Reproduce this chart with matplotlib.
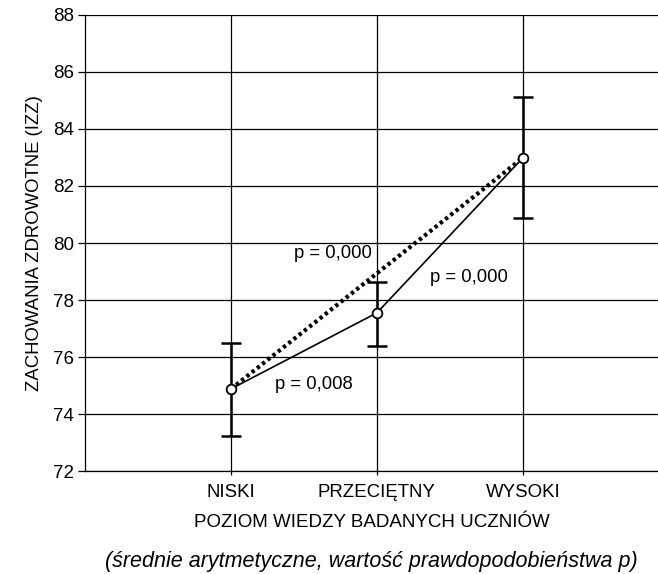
import numpy as np
import matplotlib.pyplot as plt

plt.rcParams['font.family'] = ['Liberation Sans', 'DejaVu Sans']

categories = ['NISKI', 'PRZECIĘTNY', 'WYSOKI']
means = [74.88, 77.55, 82.99]
err_low = [73.23, 76.39, 80.87]
err_high = [76.49, 78.64, 85.13]
p_labels = ['p = 0,000', 'p = 0,000', 'p = 0,008']
p_pos = [(1.70, 79.62), (2.63, 78.80), (1.57, 75.05)]

x = np.arange(1, len(categories) + 1)
means = np.array(means)
yerr = [means - np.array(err_low), np.array(err_high) - means]

fig = plt.figure(figsize=(6.58, 5.74), dpi=100)
ax = fig.add_axes([0.129, 0.1794, 0.871, 0.7945])

ax.set_xlim(0, 3.925)
ax.set_ylim(72, 88)
ax.set_yticks(np.arange(72, 89, 2))
ax.set_xticks(x)
ax.set_xticklabels(categories)
ax.grid(True, color='black', linewidth=0.9)
ax.set_axisbelow(True)
for s in ['top', 'right']:
    ax.spines[s].set_visible(False)
ax.spines['left'].set_linewidth(0.9)
ax.spines['bottom'].set_linewidth(0.9)
ax.tick_params(axis='y', direction='out', length=5, width=0.9, labelsize=13.5, pad=3)
ax.tick_params(axis='x', direction='out', length=3, width=0.9, labelsize=13.4, pad=6)

# dotted line between extremes
ax.plot([x[0], x[-1]], [means[0], means[-1]], color='black', linestyle=(0, (0.8, 0.8)),
        linewidth=3, zorder=3)
ax.errorbar(x, means, yerr=yerr, fmt='none', ecolor='black', elinewidth=1.8,
            capsize=7, capthick=1.8, zorder=4)
ax.plot(x, means, color='black', linewidth=1.2, marker='o', markersize=7,
        markerfacecolor='white', markeredgecolor='black', markeredgewidth=1.3, zorder=5)

for lab, (px, py) in zip(p_labels, p_pos):
    ax.text(px, py, lab, ha='center', va='center', fontsize=13.3)

ax.set_ylabel('ZACHOWANIA ZDROWOTNE (IZZ)', fontsize=13.3, labelpad=7)
ax.set_xlabel('POZIOM WIEDZY BADANYCH UCZNIÓW', fontsize=13.5, labelpad=10)
ax.text(0.5, -0.199, '(średnie arytmetyczne, wartość prawdopodobieństwa p)',
        transform=ax.transAxes, ha='center', va='center', fontsize=15.5, style='italic')

fig.savefig('out.png', dpi=100)
